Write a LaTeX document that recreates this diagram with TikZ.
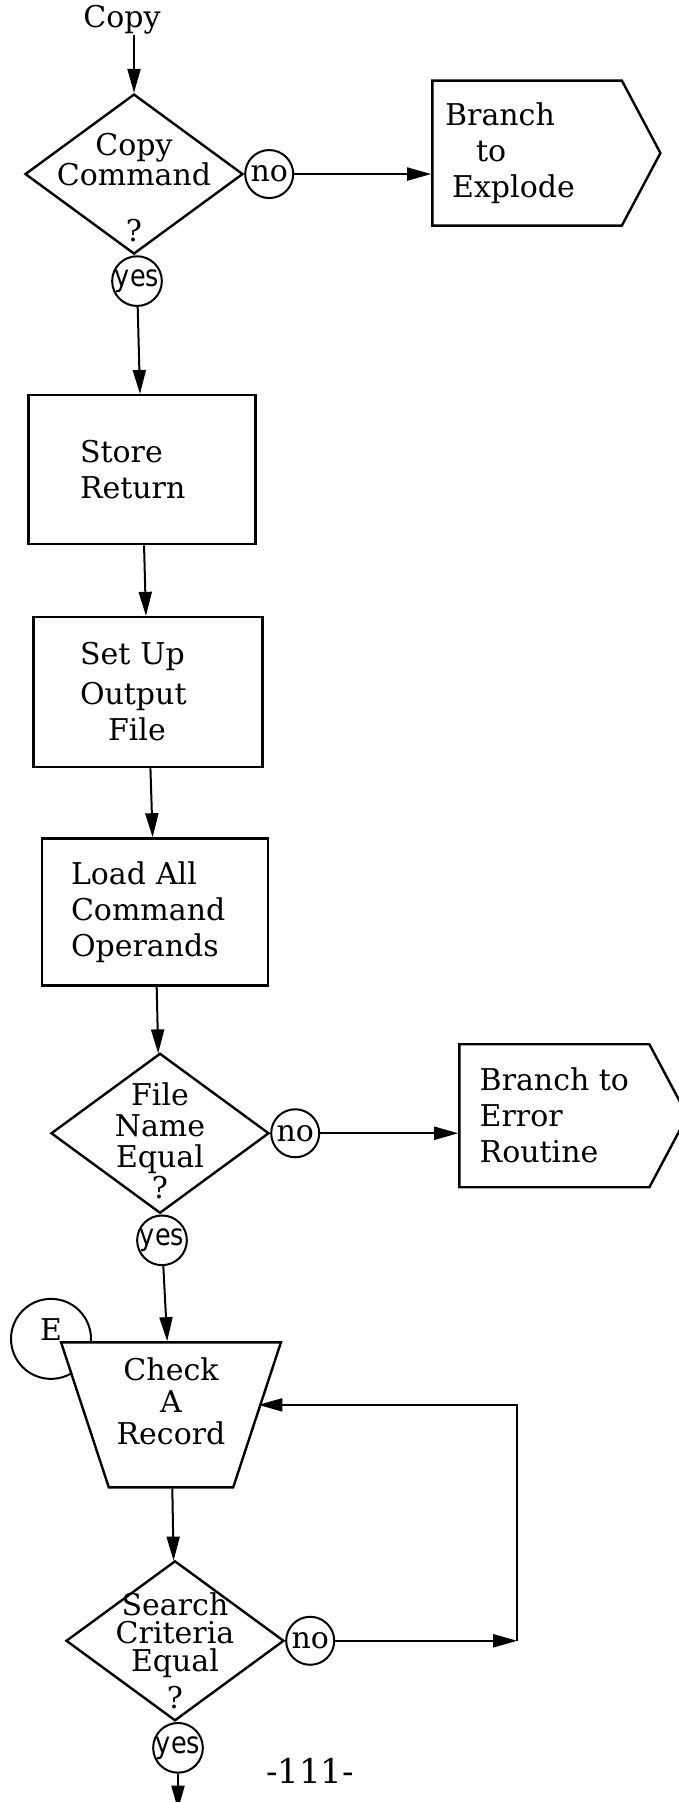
\documentclass[tikz,border=0pt]{standalone}
\usepackage{fontspec}
\setmainfont{DejaVu Serif}
\newfontfamily\yesfont[FakeStretch=0.85]{DejaVu Sans}
\usepackage{tikz}
\usetikzlibrary{arrows.meta, positioning, shapes.geometric, shapes.symbols, backgrounds}

\tikzset{
    every node/.style={font=\fontsize{15}{18}\selectfont},
    process/.style={draw, rectangle, line width=1.2pt, align=left},
    decision/.style={draw, diamond, line width=1.2pt, minimum width=109pt, minimum height=80pt, inner sep=0pt},
    answer/.style={draw, circle, line width=1pt, minimum size=24pt, inner sep=0pt},
    branchto/.style={draw, signal, signal to=east, signal pointer angle=124, line width=1.2pt, minimum width=114pt, minimum height=72.5pt},
    flow/.style={-{Triangle[length=12pt, width=6.5pt]}, line width=1pt}
}

\begin{document}
\begin{tikzpicture}
    \useasboundingbox (0,0) rectangle (339.5pt,-901pt);

    % Entry
    \node[inner sep=0pt] (start) at (61pt,-10pt) {Copy};

    % Copy command test
    \node[decision, below=29pt of start, xshift=6pt,
          label={[align=center, yshift=-7pt, font=\fontsize{15}{15}\selectfont]center:Copy\\Command\\[13pt]?}] (copycmd) {};
    \node[answer, right=0pt of copycmd] (no1) {no};
    \node[answer, below=0pt of copycmd, xshift=1.5pt] (yes1) {\yesfont yes};

    \draw[flow] (start.south -| copycmd.north) -- (copycmd.north);

    % Not a copy: explode
    \node[branchto, right=68.5pt of no1, yshift=10.5pt, align=left, text width=82pt] (explode) {
        Branch \\
        \hspace*{15.5pt}to \\
        \hspace*{3.5pt}Explode
    };
    \draw[flow] (no1) -- (no1 -| explode.west);

    % Store return
    \node[process, below=43.5pt of yes1, xshift=2.5pt, minimum width=113.5pt, minimum height=74.5pt, text width=62pt] (store) {
        Store \\
        Return
    };
    \draw[flow] (yes1) -- (store);

    % Set up output file
    \node[process, below=35.25pt of store, xshift=3pt, minimum width=114.5pt, minimum height=75pt, text width=68pt] (setup) {
        Set Up \\[2pt]
        Output \\
        \hspace*{14pt}File
    };
    \draw[flow] (store) -- (setup);

    % Load operands
    \node[process, below=34.5pt of setup, xshift=3.5pt, minimum width=113pt, minimum height=73.5pt, text width=84pt] (load) {
        Load All \\
        Command \\
        Operands
    };
    \draw[flow] (setup) -- (load);

    % File name test
    \node[decision, below=32.7pt of load, xshift=2.5pt,
          label={[align=center, yshift=-4pt, font=\fontsize{15}{15.5}\selectfont]center:File\\Name\\Equal\\?}] (filename) {};
    \node[answer, right=0pt of filename] (no2) {no};
    \node[answer, below=0pt of filename, xshift=1pt] (yes2) {\yesfont yes};
    \draw[flow] (load) -- (filename);

    \node[branchto, right=69pt of no2, yshift=8.75pt, align=left, minimum width=114pt, minimum height=71.5pt] (error) {
        Branch to \\
        Error \\
        Routine
    };
    \draw[flow] (no2) -- (no2 -| error.west);

    % Check a record
    \node[draw, trapezium, trapezium angle=69, shape border rotate=180, trapezium stretches=true,
          minimum width=110pt, minimum height=72.5pt, line width=1.2pt, fill=white,
          below=37.5pt of yes2, xshift=4.5pt,
          label={[align=center, yshift=7pt, font=\fontsize{15}{16}\selectfont]center:Check\\A\\Record}] (check) {};
    \draw[flow] (yes2) -- (check);

    \begin{scope}[on background layer]
        \node[draw, circle, line width=1pt, minimum size=40pt, inner sep=0pt,
              label={[yshift=4.5pt]center:E}] (entry) at ([shift={(-60pt,38pt)}]check.center) {};
    \end{scope}

    % Search criteria test
    \node[decision, below=35.5pt of check, xshift=2pt,
          label={[align=center, yshift=-5pt, font=\fontsize{15}{14}\selectfont]center:Search\\Criteria\\Equal\\[3pt]?}] (criteria) {};
    \node[answer, right=0pt of criteria] (no3) {no};
    \node[answer, below=0pt of criteria, xshift=1.5pt] (yes3) {\yesfont yes};
    \draw[flow] (check) -- (criteria);

    % Loop back
    \coordinate[right=91pt of no3] (loop);
    \draw[flow] (no3) -- (loop);
    \draw[flow] (loop) |- ([yshift=5pt]check.east);

    % Exit
    \coordinate[below=18pt of yes3] (exit);
    \draw[flow] (yes3) -- (exit);

    \node[font=\fontsize{17}{17}\selectfont] (pagenum) at ([xshift=66pt, yshift=-11.5pt]yes3.center) {-111-};

\end{tikzpicture}
\end{document}
